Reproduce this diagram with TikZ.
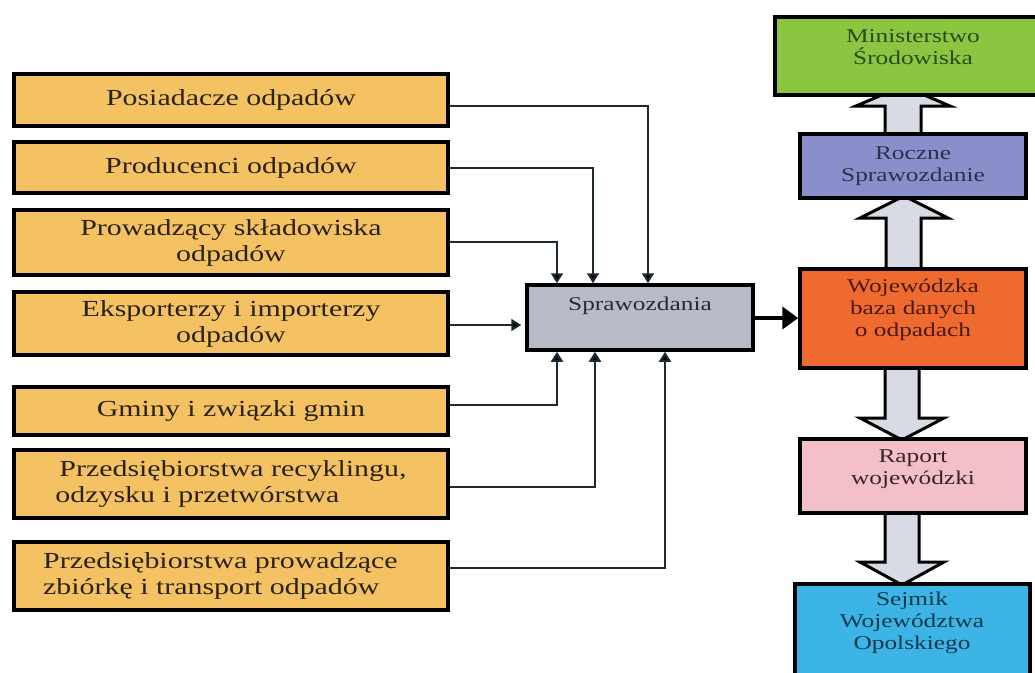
\documentclass[tikz,border=0pt]{standalone}
\usepackage{fontspec}
\setmainfont{Liberation Serif}[FakeStretch=1.3]
\usetikzlibrary{arrows.meta,calc}
\definecolor{ybox}{HTML}{F4C262}
\definecolor{gbox}{HTML}{B8BBC8}
\definecolor{grn}{HTML}{8CC640}
\definecolor{blu}{HTML}{8A8FCB}
\definecolor{org}{HTML}{EF6A2F}
\definecolor{pnk}{HTML}{F3C0C8}
\definecolor{cyn}{HTML}{3CB4E5}
\definecolor{arrfill}{HTML}{D8DBE3}
\definecolor{conncol}{HTML}{1E2A32}
\definecolor{ltxt}{HTML}{2A2214}
\definecolor{gtxt}{HTML}{2A4A1C}
\definecolor{btxt}{HTML}{2A3050}
\definecolor{otxt}{HTML}{4A1A0C}
\definecolor{ptxt}{HTML}{3A2424}
\definecolor{ctxt}{HTML}{10384C}
\definecolor{stxt}{HTML}{2A2A36}
\begin{document}
\begin{tikzpicture}[x=1pt,y=-1pt,
  box/.style={draw=black, line width=3.5pt, rectangle, inner sep=0pt},
  lbox/.style={box, fill=ybox, minimum width=434pt, font=\fontsize{23}{26}\selectfont, text=ltxt, align=center},
  rbox/.style={box, minimum width=226pt, font=\fontsize{19.5}{22}\selectfont, align=center},
  rtext/.style={font=\fontsize{19.5}{22}\selectfont, align=center, inner sep=0pt},
  conn/.style={draw=conncol, line width=2pt, -{Triangle[length=10pt, width=12pt, fill=black]}},
  big/.style={draw=black, line width=3pt, fill=arrfill, line join=miter}
]
\useasboundingbox (0,0) rectangle (1035,672);
\fill[white] (0,0) rectangle (1035,672);
\clip (0,0) rectangle (1035,672);

% left boxes
\node[lbox, minimum height=52pt] (b1) at (231,100) {Posiadacze odpadów};
\node[lbox, minimum height=51pt] (b2) at (231,167.5) {Producenci odpadów};
\node[lbox, minimum height=65pt] (b3) at (231,242.5) {Prowadzący składowiska\\odpadów};
\node[lbox, minimum height=63pt] (b4) at (231,323.5) {Eksporterzy i importerzy\\odpadów};
\node[lbox, minimum height=48pt] (b5) at (231,411) {Gminy i związki gmin};
\node[lbox, minimum height=68pt, align=left] (b6) at (231,484) {\hspace{4pt}Przedsiębiorstwa recyklingu,\\odzysku i przetwórstwa};
\node[lbox, minimum height=68pt] (b7) at (231,576) {};
\node[anchor=west, inner sep=0pt, font=\fontsize{23}{26}\selectfont, text=ltxt, align=left] (b7text) at (43,576) {Przedsiębiorstwa prowadzące\\zbiórkę i transport odpadów};

% central box
\node[box, fill=gbox, minimum width=226pt, minimum height=65pt] (sp) at (640,317.5) {};
\node[rtext, text=stxt] (sptext) at (640,306) {Sprawozdania};

% block arrows (drawn before the right boxes)
\path[big] (885,136) -- (885,106) -- (856,106) -- (903,86) -- (950,106) -- (921,106) -- (921,136) -- cycle;
\path[big] (886,271) -- (886,218) -- (860,218) -- (904,196) -- (948,218) -- (921,218) -- (921,271) -- cycle;
\path[big] (885,366) -- (885,418) -- (860,418) -- (902,440) -- (944,418) -- (919,418) -- (919,366) -- cycle;
\path[big] (885,511) -- (885,562) -- (860,562) -- (902,585) -- (944,562) -- (919,562) -- (919,511) -- cycle;

% right boxes
\node[box, fill=grn, minimum width=290pt, minimum height=78pt] (min) at (920,56) {};
\node[rtext, text=gtxt] (mintext) at (913,47) {Ministerstwo\\Środowiska};
\node[rbox, fill=blu, text=btxt, minimum height=64pt] (roc) at (913,166) {Roczne\\Sprawozdanie};
\node[box, fill=org, minimum width=226pt, minimum height=99pt] (woj) at (913,318.5) {};
\node[rtext, text=otxt] (wojtext) at (913,310) {Wojewódzka\\baza danych\\o odpadach};
\node[box, fill=pnk, minimum width=226pt, minimum height=74pt] (rap) at (913,476) {};
\node[rtext, text=ptxt] (raptext) at (913,469) {Raport\\wojewódzki};
\node[box, fill=cyn, minimum width=235pt, minimum height=116pt] (sej) at (912.5,642) {};
\node[rtext, text=ctxt] (sejtext) at (912,623) {Sejmik\\Województwa\\Opolskiego};

% connectors
\coordinate (c1) at (648,106);
\coordinate (c2) at (593,168);
\coordinate (c3) at (557,242);
\coordinate (c4) at (0,325);
\coordinate (c5) at (557,405);
\coordinate (c6) at (595,487);
\coordinate (c7) at (665,568);
\coordinate (c8) at (0,318);
\draw[conn] (b1.east |- c1) -| (sp.north -| c1);
\draw[conn] (b2.east |- c2) -| (sp.north -| c2);
\draw[conn] (b3.east |- c3) -| (sp.north -| c3);
\draw[conn, shorten >=4pt] (b4.east |- c4) -- (sp.west |- c4);
\draw[conn] (b5.east |- c5) -| (sp.south -| c5);
\draw[conn] (b6.east |- c6) -| (sp.south -| c6);
\draw[conn] (b7.east |- c7) -| (sp.south -| c7);
\draw[line width=4pt, -{Triangle[length=16pt, width=22pt]}] (sp.east |- c8) -- (woj.west |- c8);
\end{tikzpicture}
\end{document}
